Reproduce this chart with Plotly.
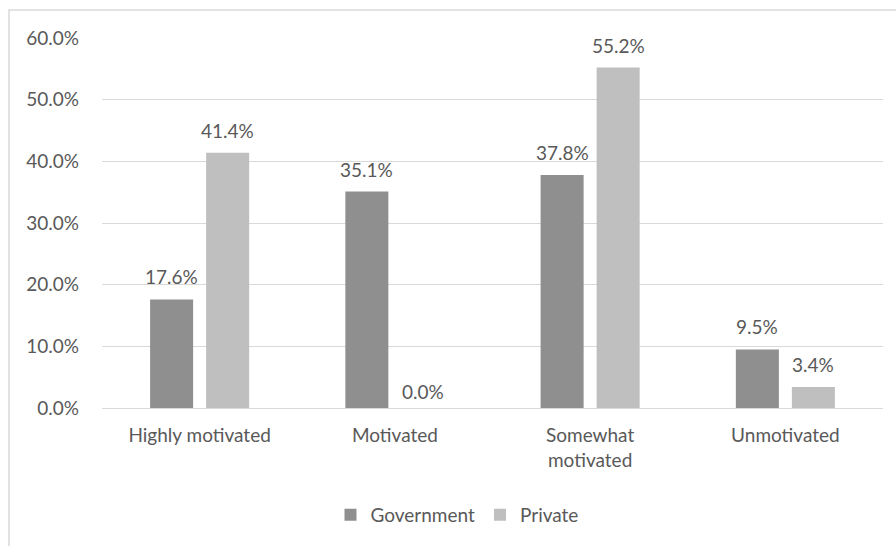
import plotly.graph_objects as go

categories = ["Highly motivated", "Motivated", "Somewhat<br>motivated", "Unmotivated"]
government = [0.176, 0.351, 0.378, 0.095]
private = [0.414, 0.0, 0.552, 0.034]
tick_vals = [0, 0.1, 0.2, 0.3, 0.4, 0.5, 0.6]

FONT = "Lato"
TXT = "#595959"
GRID = "#d9d9d9"

fig = go.Figure()
fig.add_trace(go.Bar(
    x=categories, y=government, name="Government",
    marker=dict(color="#8f8f8f", line=dict(width=0)),
))
fig.add_trace(go.Bar(
    x=categories, y=private, name="Private",
    marker=dict(color="#bfbfbf", line=dict(width=0)),
))

# data labels above each bar
for series, shift in ((government, -28), (private, 28)):
    for cat, v in zip(categories, series):
        fig.add_annotation(x=cat, y=v, xref="x", yref="y",
                           text=f"{v*100:.1f}%", showarrow=False,
                           xshift=shift, yshift=9 if v > 0 else 3,
                           yanchor="bottom",
                           font=dict(family=FONT, size=19, color=TXT))

L, R, T, B = 102, 13, 38, 138
W, H = 896, 546
pw, ph = W - L - R, H - T - B

fig.update_layout(
    width=W, height=H,
    margin=dict(l=L, r=R, t=T, b=B, pad=0),
    paper_bgcolor="white", plot_bgcolor="white",
    font=dict(family=FONT, size=19, color=TXT),
    barmode="group", bargap=0.426, bargroupgap=0.232,
    showlegend=True,
    legend=dict(orientation="h", x=(457 - L) / pw, xanchor="center",
                y=(H - B - 515) / ph, yanchor="middle",
                font=dict(family=FONT, size=19, color=TXT),
                itemwidth=30, traceorder="normal"),
    xaxis=dict(showgrid=False, showline=True, linecolor=GRID, linewidth=1,
               ticks="", tickfont=dict(family=FONT, size=19, color=TXT),
               ticklabelstandoff=10),
    yaxis=dict(range=[0, 0.6], tickvals=tick_vals, tickformat=".1%",
               showgrid=True, gridcolor=GRID, gridwidth=1,
               zeroline=True, zerolinecolor=GRID, zerolinewidth=1,
               showline=False, ticks="", ticklabelstandoff=22,
               tickfont=dict(family=FONT, size=19, color=TXT)),
)

# outer chart frame (light grey border, continues past right/bottom edges)
fig.add_shape(type="rect", xref="paper", yref="paper",
              x0=(9 - L) / pw, x1=(W + 5 - L) / pw,
              y0=(H - B - (H + 5)) / ph, y1=(H - B - 10) / ph,
              line=dict(color=GRID, width=1.5), fillcolor="rgba(0,0,0,0)",
              layer="below")

fig.write_html("out.html")
